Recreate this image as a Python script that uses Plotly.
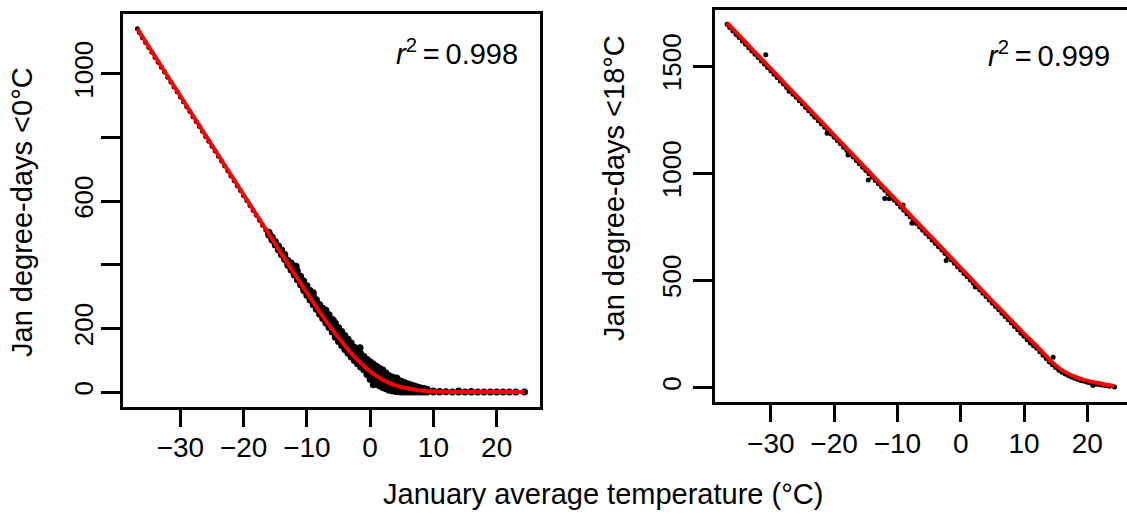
import plotly.graph_objects as go

W, H = 1127, 516

# ---------------- Left panel: degree-days < 0 °C ----------------
left_curve_x = [-36.8, -35, -30, -25, -20, -16, -14, -12, -10, -8, -6, -5, -4, -3, -2, -1,
                0, 1, 2, 3, 4, 5, 6, 8, 10, 12, 15, 20, 24.4]
left_curve_y = [1141, 1085, 930, 775, 620, 496, 434, 373, 312, 253, 197, 171, 146, 122, 101, 82,
                65, 51, 39, 29, 21, 15, 11, 5, 2, 1, 0, 0, 0]

# thin part of the cloud (cold end)
left_thin_x = [-36.8, -36.5, -36, -35.5, -35, -34.5, -34, -33.5, -33, -32.5, -32, -31.5, -31,
               -30.5, -30, -29.5, -29, -28.5, -28, -27.5, -27, -26.5, -26, -25.5, -25, -24.5,
               -24, -23.5, -23, -22.5, -22, -21.5, -21, -20.5, -20, -19.5, -19, -18.5, -18,
               -17.5, -17, -16.5]
left_thin_y = [1141, 1129, 1113, 1098, 1082, 1067, 1051, 1036, 1020, 1005, 989, 974, 958,
               943, 927, 912, 896, 881, 865, 850, 834, 819, 803, 788, 772, 757,
               741, 726, 710, 695, 679, 664, 648, 633, 617, 602, 586, 571, 555,
               540, 524, 509]

# dense part of the cloud: lower edge, centre, mid-upper and upper edge
left_band_x = [-16, -15.5, -15, -14.5, -14, -13.5, -13, -12.5, -12, -11.5, -11, -10.5, -10,
               -9.5, -9, -8.5, -8, -7.5, -7, -6.5, -6, -5.5, -5, -4.5, -4, -3.5, -3, -2.5,
               -2, -1.5, -1, -0.5, 0, 0.5, 1, 1.5, 2, 2.5, 3, 3.5, 4, 4.5, 5, 5.5, 6, 6.5,
               7, 7.5, 8, 8.5, 9]
left_band_lo = [493, 478, 462, 447, 431, 416, 398, 383, 368, 353, 337, 319, 304, 289, 274,
                260, 245, 231, 217, 203, 189, 172, 159, 146, 134, 122, 110, 99, 89, 79, 70,
                55, 40, 33, 26, 20, 14, 10, 6, 4, 2, 1, 0, 0, 0, 0, 0, 0, 0, 0, 0]
left_band_mid = [496, 481, 465, 450, 434, 419, 403, 388, 373, 358, 342, 327, 312, 297, 282,
                 268, 253, 239, 225, 211, 197, 184, 171, 158, 146, 134, 122, 111, 101, 91, 82,
                 73, 65, 58, 51, 45, 39, 34, 29, 25, 21, 18, 15, 13, 11, 9, 7, 6, 5, 4, 3]
left_band_mh = [499, 484, 469, 455, 440, 426, 408, 397, 384, 369, 353, 338, 323, 308, 293,
                279, 264, 251, 241, 227, 213, 200, 187, 174, 162, 150, 138, 126, 116, 106, 97,
                88, 80, 73, 66, 60, 54, 47, 40, 36, 31, 28, 24, 21, 18, 16, 13, 11, 9, 8, 6]
left_band_hi = [502, 487, 473, 459, 446, 432, 413, 405, 395, 380, 364, 349, 334, 319, 304,
                290, 275, 263, 257, 243, 229, 216, 203, 190, 178, 166, 154, 141, 131, 121, 112,
                103, 95, 88, 81, 75, 69, 60, 51, 47, 41, 37, 33, 29, 25, 22, 19, 16, 13, 11, 9]

# extra scattered points (low side near 0 °C, outliers, warm tail)
left_extra_x = [-1, -0.5, 0, 0.5, 1, 1.5, 2, 2.5, 3, 3.5, 4,
                -11.7, -9.0, -5.8, -1.6, 0.5, 4.2, 1.5,
                10, 10, 11, 11, 12, 13, 14, 14, 15, 16, 16, 17, 18, 19, 20, 21, 22, 23, 24.4]
left_extra_y = [76, 64, 52, 45, 38, 32, 26, 22, 17, 14, 11,
                395, 312, 225, 139, 23, 44, 20,
                0, 3, 0, 2, 1, 0, 0, 3, 0, 0, 2, 0, 0, 0, 0, 0, 0, 0, 0]

# ---------------- Right panel: degree-days < 18 °C ----------------
right_curve_x = [-36.9, -35, -30, -25, -20, -15, -10, -5, 0, 5, 8, 10, 12, 14, 15, 16, 17, 18,
                 19, 20, 21, 22, 23, 24.3]
right_curve_y = [1702, 1643, 1488, 1333, 1178, 1023, 868, 713, 558, 403, 312, 251, 193, 130, 103,
                 80, 63, 50, 39, 31, 24, 19, 12, 6]

right_pts_x = [-36.9, -36, -35, -34, -33, -32, -31, -30, -29, -28, -27, -26, -25, -24, -23, -22,
               -21, -20, -19, -18, -17, -16, -15, -14, -13, -12, -11, -10, -9, -8, -7, -6, -5,
               -4, -3, -2, -1, 0, 1, 2, 3, 4, 5, 6, 7, 8, 9, 10, 11, 12, 13, 14, 15, 16, 17,
               18, 19, 20, 21, 22, 23, 24.3,
               -14.6, -12.0, -11.3, -9.1, -7.7, -2.3, 2.3, 14.6, 20.9, -27.1, -23.1, -21.1,
               -17.8, -30.8]
right_pts_y = [1696, 1664, 1633, 1602, 1571, 1540, 1509, 1478, 1447, 1416, 1385, 1354, 1323,
               1292, 1261, 1230, 1199, 1168, 1137, 1106, 1075, 1044, 1013, 982, 951, 920, 889,
               858, 827, 796, 765, 734, 703, 672, 641, 610, 579, 548, 517, 486, 455, 424, 393,
               362, 331, 300, 269, 238, 207, 182, 150, 118, 92, 70, 55, 42, 32, 24, 17, 12, 7, 2,
               968, 882, 880, 851, 766, 592, 468, 140, 8, 1382, 1264, 1187, 1085, 1553]
right_half_x = [-36.5, -35.5, -34.5, -33.5, -32.5, -31.5, -30.5, -29.5, -28.5, -27.5, -26.5,
                -25.5, -24.5, -23.5, -22.5, -21.5, -20.5, -19.5, -18.5, -17.5, -16.5, -15.5,
                -14.5, -13.5, -12.5, -11.5, -10.5, -9.5, -8.5, -7.5, -6.5, -5.5, -4.5, -3.5,
                -2.5, -1.5, -0.5, 0.5, 1.5, 2.5, 3.5, 4.5, 5.5, 6.5, 7.5, 8.5, 9.5, 10.5, 11.5,
                12.5, 13.5, 14.5, 15.5, 16.5, 17.5, 18.5, 19.5, 20.5, 21.5, 22.5, 23.5]
right_half_y = [1680, 1648, 1617, 1586, 1555, 1524, 1493, 1462, 1431, 1400, 1369,
                1338, 1307, 1276, 1245, 1214, 1183, 1152, 1121, 1090, 1059, 1028,
                997, 966, 935, 904, 873, 842, 811, 780, 749, 718, 687, 656,
                625, 594, 563, 532, 501, 470, 439, 408, 377, 346, 315, 284, 253, 222, 194,
                166, 134, 105, 80, 62, 48, 37, 28, 20, 14, 10, 5]

left_xticks = [-30, -20, -10, 0, 10, 20]
left_xlabels = ["\u221230", "\u221220", "\u221210", "0", "10", "20"]
left_yticks = [0, 200, 400, 600, 800, 1000]
left_ylabels = ["0", "200", "", "600", "", "1000"]
right_xticks = [-30, -20, -10, 0, 10, 20]
right_xlabels = ["\u221230", "\u221220", "\u221210", "0", "10", "20"]
right_yticks = [0, 500, 1000, 1500]
right_ylabels = ["0", "500", "1000", "1500"]

FONT = "Arial, Liberation Sans, sans-serif"

band_x = left_band_x * 4 + left_extra_x
band_y = left_band_lo + left_band_mid + left_band_mh + left_band_hi + left_extra_y

fig = go.Figure()
fig.add_trace(go.Scatter(x=left_thin_x, y=left_thin_y, mode="markers",
                         marker=dict(color="black", size=5), xaxis="x", yaxis="y"))
fig.add_trace(go.Scatter(x=band_x, y=band_y, mode="markers",
                         marker=dict(color="black", size=7), xaxis="x", yaxis="y"))
fig.add_trace(go.Scatter(x=left_curve_x, y=left_curve_y, mode="lines",
                         line=dict(color="#ff0000", width=4, shape="spline", smoothing=0.6),
                         xaxis="x", yaxis="y"))
fig.add_trace(go.Scatter(x=right_pts_x + right_half_x, y=right_pts_y + right_half_y,
                         mode="markers", marker=dict(color="black", size=5),
                         xaxis="x2", yaxis="y2"))
fig.add_trace(go.Scatter(x=right_curve_x, y=right_curve_y, mode="lines",
                         line=dict(color="#ff0000", width=4, shape="spline", smoothing=0.6),
                         xaxis="x2", yaxis="y2"))

def px(v):
    return v / W

def py(v):
    return 1 - v / H

common_x = dict(showgrid=False, zeroline=False, showline=True, linecolor="black", linewidth=3,
                ticks="outside", ticklen=17, tickwidth=3, tickcolor="black",
                tickfont=dict(family=FONT, size=28, color="black"), ticklabelstandoff=-3)
common_y = dict(showgrid=False, zeroline=False, showline=True, linecolor="black", linewidth=3,
                ticks="outside", ticklen=19, tickwidth=3, tickcolor="black", tickangle=-90,
                tickfont=dict(family=FONT, size=26, color="black"))

fig.update_layout(
    width=W, height=H, autosize=False,
    margin=dict(l=0, r=0, t=0, b=0),
    paper_bgcolor="white", plot_bgcolor="white",
    showlegend=False,
    xaxis=dict(domain=[px(122.5), px(540)], range=[-39.15, 26.85], mirror=True,
               tickvals=left_xticks, ticktext=left_xlabels, anchor="y", **common_x),
    yaxis=dict(domain=[py(406.7), py(14)], range=[-46, 1187.5], mirror=True,
               tickvals=left_yticks, ticktext=left_ylabels, anchor="x",
               ticklabelstandoff=-3, **common_y),
    xaxis2=dict(domain=[px(714.8), 1.0], range=[-38.85, 26.27], mirror=True,
                tickvals=right_xticks, ticktext=right_xlabels, anchor="y2", **common_x),
    yaxis2=dict(domain=[py(402.3), py(10)], range=[-70, 1762], mirror=False,
                tickvals=right_yticks, ticktext=right_ylabels, anchor="x2",
                ticklabelstandoff=1, **common_y),
)

title_font = dict(family=FONT, size=29, color="black")
fig.add_annotation(text="Jan degree-days <0°C", x=px(22), y=py(212), xref="paper", yref="paper",
                   textangle=-90, showarrow=False, font=title_font,
                   xanchor="center", yanchor="middle")
fig.add_annotation(text="Jan degree-days <18°C", x=px(614), y=py(188), xref="paper", yref="paper",
                   textangle=-90, showarrow=False, font=title_font,
                   xanchor="center", yanchor="middle")
fig.add_annotation(text="January average temperature (°C)", x=px(603), y=py(494),
                   xref="paper", yref="paper", showarrow=False, font=title_font,
                   xanchor="center", yanchor="middle")

r2_font = dict(family=FONT, size=29, color="black")
fig.add_annotation(text="<i>r</i><sup>2</sup>\u2009=\u20090.998", x=px(520), y=py(52),
                   xref="paper", yref="paper", showarrow=False, font=r2_font,
                   xanchor="right", yanchor="middle")
fig.add_annotation(text="<i>r</i><sup>2</sup>\u2009=\u20090.999", x=px(1111.5), y=py(54),
                   xref="paper", yref="paper", showarrow=False, font=r2_font,
                   xanchor="right", yanchor="middle")

fig.write_html("out.html", config={"displayModeBar": False},
               post_script="document.body.style.margin='0';document.body.style.overflow='hidden';")
